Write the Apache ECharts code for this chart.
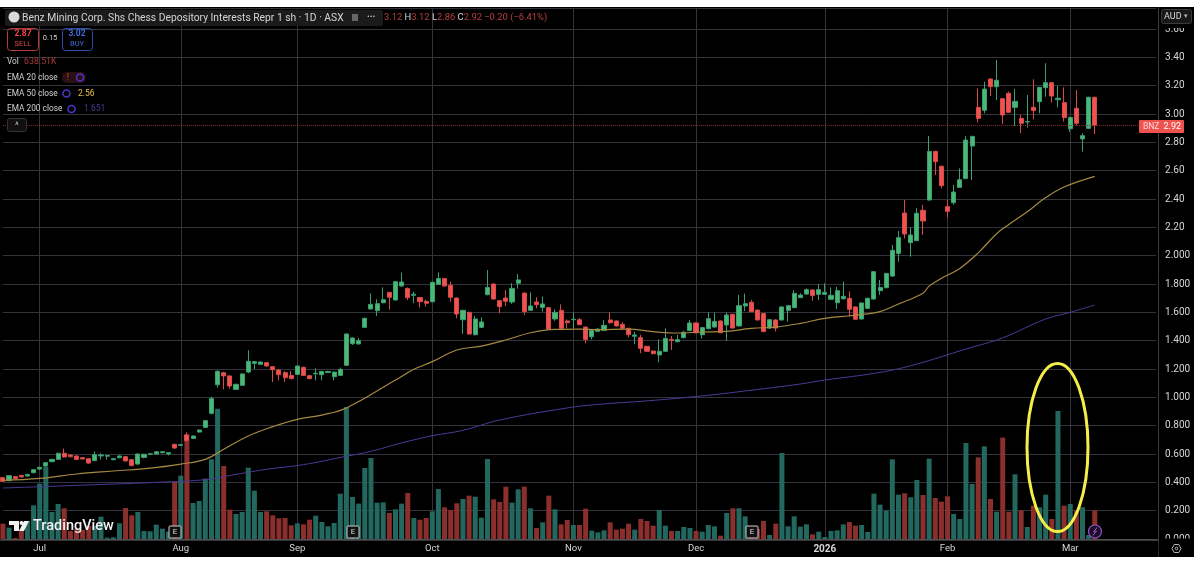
<!DOCTYPE html>
<html>
<head>
<meta charset="utf-8">
<title>BNZ</title>
<script src="https://cdn.jsdelivr.net/npm/echarts@6/dist/echarts.min.js"></script>
<style>
    html, body { margin:0; padding:0; background:#fff; }
    #panel { position:absolute; left:0; top:7px; width:1194px; height:550px; background:#000; }
    #main { position:absolute; left:0; top:0; width:1200px; height:564px; }
</style>
</head>
<body>
<div id="panel"></div>
<div id="main"></div>
<script>
// month labels and the bar each one sits on
var monthNames = ['Jul','Aug','Sep','Oct','Nov','Dec','2026','Feb','Mar'];
var monthBars = [6,29,48,70,93,113,134,154,174];
var barCount = 189; // 179 traded bars + empty space on the right

// open, close, low, high
var candles = [
[.433,.407,.403,.437],[.412,.447,.408,.451],[.44,.426,.422,.444],[.449,.438,.434,.453],[.445,.456,.441,.46],
[.468,.489,.464,.493],[.494,.506,.49,.51],[.515,.539,.511,.543],[.546,.562,.542,.566],[.562,.605,.558,.609],
[.605,.579,.574,.638],[.593,.581,.577,.597],[.586,.562,.558,.59],[.574,.565,.561,.578],[.567,.536,.532,.571],
[.553,.595,.549,.619],[.586,.593,.562,.605],[.585,.589,.56,.593],[.56,.567,.556,.571],[.574,.586,.57,.59],
[.581,.551,.547,.585],[.56,.518,.514,.564],[.529,.6,.525,.604],[.576,.598,.57,.602],[.598,.602,.594,.606],
[.6,.616,.596,.62],[.609,.616,.605,.62],[.6,.609,.59,.613],[.668,.642,.636,.672],[.661,.666,.657,.67],
[.734,.694,.69,.753],[.71,.727,.706,.731],[.755,.769,.751,.773],[.788,.835,.784,.839],[.887,.991,.88,1.005],
[1.089,1.184,1.068,1.19],[1.174,1.151,1.056,1.18],[1.151,1.08,1.06,1.155],[1.056,1.092,1.052,1.096],[1.085,1.165,1.081,1.169],
[1.179,1.254,1.17,1.332],[1.24,1.252,1.2,1.255],[1.233,1.249,1.229,1.253],[1.245,1.221,1.217,1.249],[1.216,1.195,1.108,1.22],
[1.193,1.16,1.12,1.197],[1.174,1.139,1.108,1.185],[1.155,1.132,1.128,1.186],[1.162,1.221,1.158,1.225],[1.212,1.155,1.15,1.216],
[1.153,1.132,1.128,1.157],[1.166,1.17,1.12,1.205],[1.16,1.183,1.12,1.187],[1.175,1.183,1.171,1.187],[1.146,1.178,1.12,1.182],
[1.155,1.197,1.151,1.21],[1.226,1.447,1.222,1.451],[1.379,1.419,1.37,1.423],[1.377,1.4,1.373,1.418],[1.494,1.558,1.49,1.562],
[1.624,1.656,1.62,1.734],[1.612,1.661,1.574,1.692],[1.668,1.689,1.664,1.776],[1.741,1.706,1.621,1.745],[1.687,1.816,1.683,1.82],
[1.786,1.814,1.782,1.88],[1.769,1.704,1.687,1.775],[1.72,1.728,1.664,1.746],[1.704,1.675,1.635,1.708],[1.678,1.664,1.64,1.69],
[1.675,1.812,1.671,1.816],[1.798,1.838,1.794,1.882],[1.838,1.786,1.782,1.842],[1.791,1.706,1.675,1.816],[1.701,1.588,1.558,1.705],
[1.548,1.614,1.447,1.618],[1.6,1.447,1.443,1.604],[1.442,1.553,1.438,1.574],[1.494,1.532,1.49,1.565],[1.725,1.776,1.72,1.899],
[1.8,1.694,1.69,1.804],[1.682,1.64,1.593,1.686],[1.701,1.678,1.645,1.758],[1.673,1.769,1.66,1.805],[1.805,1.829,1.767,1.871],
[1.736,1.605,1.581,1.74],[1.614,1.645,1.61,1.741],[1.673,1.654,1.628,1.706],[1.635,1.659,1.605,1.711],[1.633,1.482,1.478,1.637],
[1.553,1.6,1.54,1.621],[1.614,1.487,1.48,1.656],[1.539,1.527,1.487,1.55],[1.548,1.551,1.487,1.6],[1.548,1.513,1.509,1.56],
[1.496,1.409,1.381,1.5],[1.428,1.471,1.41,1.475],[1.466,1.482,1.462,1.486],[1.473,1.508,1.469,1.546],[1.546,1.527,1.52,1.6],
[1.539,1.504,1.5,1.543],[1.515,1.487,1.483,1.53],[1.487,1.442,1.424,1.491],[1.431,1.44,1.376,1.464],[1.421,1.346,1.311,1.442],
[1.36,1.325,1.321,1.364],[1.327,1.308,1.304,1.331],[1.299,1.325,1.247,1.409],[1.325,1.416,1.321,1.487],[1.409,1.402,1.334,1.433],
[1.393,1.407,1.389,1.44],[1.421,1.459,1.417,1.47],[1.471,1.525,1.467,1.546],[1.525,1.456,1.452,1.529],[1.442,1.492,1.414,1.496],
[1.485,1.555,1.481,1.6],[1.496,1.536,1.492,1.598],[1.539,1.456,1.452,1.543],[1.511,1.581,1.398,1.598],[1.586,1.489,1.485,1.59],
[1.504,1.647,1.5,1.722],[1.645,1.661,1.609,1.732],[1.671,1.605,1.601,1.687],[1.616,1.546,1.542,1.62],[1.591,1.464,1.46,1.595],
[1.489,1.548,1.485,1.552],[1.546,1.489,1.464,1.55],[1.546,1.638,1.542,1.642],[1.614,1.647,1.534,1.651],[1.633,1.734,1.629,1.758],
[1.704,1.722,1.7,1.734],[1.729,1.76,1.725,1.769],[1.758,1.718,1.682,1.762],[1.727,1.76,1.687,1.8],[1.727,1.741,1.723,1.805],
[1.692,1.72,1.688,1.776],[1.668,1.753,1.624,1.78],[1.696,1.713,1.69,1.816],[1.699,1.621,1.569,1.748],[1.638,1.551,1.547,1.642],
[1.553,1.666,1.549,1.67],[1.628,1.699,1.624,1.703],[1.694,1.887,1.69,1.891],[1.753,1.776,1.722,1.828],[1.774,1.875,1.77,1.879],
[1.856,2.038,1.852,2.075],[2.016,2.127,1.958,2.174],[2.301,2.153,2.122,2.393],[2.092,2.146,1.993,2.198],[2.106,2.299,2.102,2.334],
[2.32,2.245,2.146,2.358],[2.393,2.736,2.389,2.845],[2.736,2.664,2.569,2.74],[2.631,2.494,2.475,2.635],[2.346,2.313,2.268,2.393],
[2.374,2.449,2.36,2.499],[2.482,2.536,2.478,2.616],[2.544,2.816,2.54,2.845],[2.774,2.842,2.534,2.846],[3.047,2.969,2.939,3.181],
[3.026,3.176,3.005,3.228],[3.247,3.193,3.127,3.251],[3.193,3.238,3.099,3.381],[3.108,2.993,2.929,3.112],[3.146,3.012,3.008,3.158],
[3.047,3.089,2.915,3.176],[2.969,2.934,2.864,2.993],[2.944,2.946,2.904,3.134],[3.047,3.024,2.962,3.245],[3.087,3.188,3.005,3.192],
[3.186,3.221,3.122,3.358],[3.221,3.127,3.08,3.225],[3.101,3.111,3.047,3.198],[3.08,2.974,2.946,3.188],[2.896,2.976,2.875,2.98],
[3.04,2.934,2.92,3.169],[2.824,2.847,2.734,2.864],[2.899,3.118,2.895,3.122],[3.118,2.92,2.859,3.122]
];

// volume in thousands of shares
var volumes = [
341,252,22,178,401,749,1232,1603,601,779,683,178,215,200,289,289,497,30,37,349,
690,527,601,178,171,319,230,163,1269,1410,2330,801,846,1343,1773,2901,1625,653,557,601,
1588,1076,601,616,527,460,467,304,349,326,430,519,378,282,356,1009,2938,935,787,1580,
1803,809,816,579,660,787,1024,467,430,467,616,1113,705,646,794,890,965,942,475,1781,
883,824,1165,809,1106,1165,683,245,371,965,660,326,423,312,312,675,186,148,193,371,
208,230,341,208,445,401,297,646,297,178,178,267,245,178,163,312,282,74,579,683,
683,505,223,223,401,89,341,1914,282,505,275,326,104,163,45,178,193,326,378,297,
312,156,1009,764,631,1773,987,1017,928,1313,979,1788,913,831,950,557,445,2137,1224,1818,
2063,890,608,2256,608,1440,638,267,742,705,987,445,2849,742,779,638,705,89,638
];

var ema50Bars = [0,6,12,18,24,29,33,36,40,44,48,52,56,64,67,70,74,78,82,86,90,94,97,102,106,110,114,118,122,126,130,134,138,140,143,146,150,151,153,156,159,162,164,167,170,173,178];
var ema50Values = [.414,.428,.459,.48,.5,.529,.562,.633,.727,.793,.845,.875,.925,1.122,1.198,1.252,1.334,1.362,1.405,1.456,1.48,1.482,1.478,1.482,1.464,1.454,1.461,1.466,1.487,1.496,1.522,1.558,1.576,1.585,1.605,1.659,1.735,1.785,1.84,1.91,2.02,2.155,2.22,2.31,2.41,2.485,2.56];

var ema200Bars = [0,6,18,24,33,38,43,49,56,60,65,70,75,81,92,97,105,114,121,130,134,143,149,157,163,170,174,178];
var ema200Values = [.36,.369,.388,.398,.419,.456,.492,.525,.584,.619,.678,.729,.767,.84,.925,.95,.975,1.01,1.045,1.094,1.122,1.176,1.235,1.341,1.42,1.553,1.6,1.652];

var yTickStep = 0.2;
var lastPrice = 2.92;
var upColor = '#4bb873', upWick = '#3aa074', downColor = '#ef5350', downWick = '#d84a48';
var volUp = '#22685f', volDown = '#8b2f2d';
var gridColor = '#33333b', textColor = '#d6d6d6';
var fontName = 'Roboto';

var categories = [];
for (var i = 0; i < barCount; i++) categories.push(String(i));

function pairs(bars, values) {
    return bars.map(function (b, k) { return [b, values[k]]; });
}
function txt(x, y, s, fill, size, extra) {
    var style = { x:x, y:y, text:s, fill:fill, fontSize:size, fontFamily:fontName, verticalAlign:'middle', align:'left' };
    for (var k in (extra || {})) style[k] = extra[k];
    return { type:'text', z:100, silent:true, style:style };
}
function box(x, y, w, h, fill, stroke, r) {
    return { type:'rect', z:99, silent:true, shape:{x:x, y:y, width:w, height:h, r:r || 0},
        style:{ fill:fill, stroke:stroke || null, lineWidth:1 } };
}
function earningsMark(x) {
    return [ box(x, 526, 12, 12, '#111', '#cfcfcf', 1), txt(x + 6, 532, 'E', '#dcdcdc', 8, {align:'center'}) ];
}
function spinner(x, y) {
    return { type:'circle', z:100, silent:true, shape:{cx:x, cy:y, r:3.5},
        style:{ fill:'none', stroke:'#4a35c8', lineWidth:1.6 } };
}

var marks = [
    // axis strip edges, the labels are cut off there
    box(1159, 7, 35, 21, '#000'),
    box(1159, 538.5, 35, 18.5, '#000'),
    { type:'line', z:99, silent:true, shape:{x1:0, y1:540, x2:1159, y2:540}, style:{stroke:'#6e6e6e', lineWidth:1} },
    box(1161.5, 9.5, 30, 14, '#181818', '#3a3a3a', 2),
    txt(1164, 17, 'AUD', '#d6d6d6', 9),
    txt(1186, 16.5, '▾', '#b5b5b5', 7, {align:'center'}),
    // title bar
    box(5, 10, 378, 16, '#1b1b1b', null, 2),
    { type:'circle', z:100, silent:true, shape:{cx:14, cy:17, r:5.5}, style:{fill:'#d9d9d9'} },
    txt(22, 18, 'Benz Mining Corp. Shs Chess Depository Interests Repr 1 sh · 1D · ASX', '#d4d4d4', 10.3),
    box(352, 14, 6, 7, '#666'),
    txt(367, 17, '•••', '#bdbdbd', 8),
    txt(384, 18, '{v|3.12} {k|H}{v|3.12} {k|L}{v|2.86} {k|C}{v|2.92} {v|−0.20 (−6.41%)}', '#b53a3a', 9.4, {
        rich:{
            v:{ fill:'#b8403e', fontSize:9.4, fontFamily:fontName },
            k:{ fill:'#cfcfcf', fontSize:9.4, fontFamily:fontName }
        }
    }),
    // buy / sell
    box(7.5, 28.5, 31, 22, 'none', '#b83a3a', 3),
    txt(23, 34, '2.87', '#ef4444', 8.5, {align:'center', fontWeight:'bold'}),
    txt(23, 44, 'SELL', '#d84a4a', 7.5, {align:'center'}),
    txt(50, 38.5, '0.15', '#cfcfcf', 7.5, {align:'center'}),
    box(62.5, 28.5, 30, 22, 'none', '#2b4fa8', 3),
    txt(77, 34, '3.02', '#3f6fe0', 8.5, {align:'center', fontWeight:'bold'}),
    txt(77, 44, 'BUY', '#3f6fe0', 7.5, {align:'center'}),
    // indicator legend
    txt(7, 62, 'Vol', '#d0d0d0', 8.3),
    txt(24, 62, '638.51K', '#a83a3a', 8.8),
    txt(7, 77.5, 'EMA 20 close', '#d0d0d0', 8.3),
    box(62, 72, 24, 11, '#2a1012', null, 5),
    txt(68, 77.5, '!', '#d84040', 9, {align:'center'}),
    spinner(80, 77.5),
    txt(7, 93.5, 'EMA 50 close', '#d0d0d0', 8.3),
    spinner(66.5, 93.5),
    txt(78, 93.5, '2.56', '#e8c24a', 8.5),
    txt(7, 109, 'EMA 200 close', '#d0d0d0', 8.3),
    spinner(71.5, 109),
    txt(84, 109, '1.651', '#4b3a96', 8.5),
    box(7.5, 118.5, 19, 13, '#101010', '#333', 2),
    txt(17, 126, '^', '#c8c8c8', 9, {align:'center'}),
    // last price tag
    box(1139, 120, 45, 13, '#ef5350', null, 1),
    txt(1143, 126.5, 'BNZ', '#ffd9d9', 8.5),
    txt(1181, 126.5, '2.92', '#ffffff', 9, {align:'right'}),
    // TradingView watermark
    { type:'polygon', z:100, silent:true, shape:{points:[[9,521],[19,521],[19,531],[14,531],[14,525],[9,525]]}, style:{fill:'#f2f2f2'} },
    { type:'circle', z:100, silent:true, shape:{cx:21.5, cy:523, r:2}, style:{fill:'#f2f2f2'} },
    { type:'polygon', z:100, silent:true, shape:{points:[[24,521],[29,521],[24,531],[19,531]]}, style:{fill:'#f2f2f2'} },
    txt(33, 526.5, 'TradingView', '#f2f2f2', 14.5, {fontWeight:500}),
    // hand drawn ring round the volume spike
    { type:'ellipse', z:101, silent:true, shape:{cx:1057.5, cy:447.5, rx:30.5, ry:84},
        style:{ fill:'none', stroke:'#f5ee4a', lineWidth:3 } },
    // latest-news bolt
    { type:'circle', z:100, silent:true, shape:{cx:1095, cy:531.5, r:6.5}, style:{fill:'#1a0f24', stroke:'#9a4fd0', lineWidth:1.2} },
    { type:'polyline', z:101, silent:true, shape:{points:[[1097,527.5],[1093.5,532],[1096.5,531],[1093,535.5]]}, style:{fill:'none', stroke:'#9a4fd0', lineWidth:1} },
    // settings gear
    { type:'polygon', z:100, silent:true, shape:{points:[[1172,548.5],[1174.2,544.5],[1178.8,544.5],[1181,548.5],[1178.8,552.5],[1174.2,552.5]]}, style:{fill:'none', stroke:'#b5b5b5', lineWidth:1} },
    { type:'circle', z:100, silent:true, shape:{cx:1176.5, cy:548.5, r:1.3}, style:{fill:'none', stroke:'#b5b5b5', lineWidth:1} },
    { type:'line', z:99, silent:true, shape:{x1:1158.5, y1:541, x2:1158.5, y2:557}, style:{stroke:'#2a2a2a', lineWidth:1} }
].concat(earningsMark(169), earningsMark(347), earningsMark(746));

var myChart = echarts.init(document.getElementById('main'));
var option = {
    animation:false,
    graphic:{ elements:marks },
    grid:{ left:2.9, right:43.9, top:7.75, bottom:25 },
    xAxis:{
        type:'category',
        boundaryGap:false,
        data:categories,
        axisLine:{ show:false },
        axisTick:{ show:false },
        splitLine:{
            show:true,
            interval:function (idx) { return monthBars.indexOf(idx) >= 0; },
            lineStyle:{ color:gridColor, width:1 }
        },
        axisLabel:{
            interval:function (idx) { return monthBars.indexOf(idx) >= 0; },
            formatter:function (v, idx) {
                var name = monthNames[monthBars.indexOf(Number(v))];
                return name === '2026' ? '{b|2026}' : name;
            },
            rich:{ b:{ fontWeight:'bold', fontSize:10, color:textColor, fontFamily:fontName } },
            color:textColor,
            fontSize:9.5,
            fontFamily:fontName,
            margin:5
        }
    },
    yAxis:[
        {
            type:'value',
            position:'right',
            min:0,
            max:3.75,
            interval:yTickStep,
            offset:2,
            axisLine:{ show:true, lineStyle:{ color:'#3a3a3a' } },
            axisTick:{ show:false },
            splitLine:{ lineStyle:{ color:gridColor, width:1 } },
            axisLabel:{
                showMaxLabel:false,
                color:textColor,
                fontSize:10,
                fontFamily:fontName,
                margin:7,
                padding:[3,0,0,0],
                formatter:function (v) { return v > 2.1 ? v.toFixed(2) : v.toFixed(3); }
            }
        },
        { type:'value', min:0, max:11826, show:false, splitLine:{ show:false } }
    ],
    series:[
        {
            name:'Vol',
            type:'bar',
            yAxisIndex:1,
            barWidth:5,
            data:volumes,
            itemStyle:{
                color:function (p) {
                    var c = candles[p.dataIndex];
                    return c[1] >= c[0] ? volUp : volDown;
                }
            }
        },
        {
            name:'EMA 200',
            type:'line',
            data:pairs(ema200Bars, ema200Values),
            showSymbol:false,
            smooth:0.4,
            lineStyle:{ color:'#4b3a96', width:1 }
        },
        {
            name:'EMA 50',
            type:'line',
            data:pairs(ema50Bars, ema50Values),
            showSymbol:false,
            smooth:0.4,
            lineStyle:{ color:'#a78a42', width:1.2 }
        },
        {
            name:'BNZ',
            type:'candlestick',
            clip:false,
            barWidth:4.6,
            data:candles,
            itemStyle:{
                color:upColor, color0:downColor,
                borderColor:upWick, borderColor0:downWick,
                borderWidth:1
            },
            markLine:{
                silent:true,
                symbol:'none',
                label:{ show:false },
                lineStyle:{ color:'#8a2c2c', type:'dotted', width:1 },
                data:[{ yAxis:lastPrice }]
            }
        }
    ]
};
myChart.setOption(option);
window.onresize = function(){
    myChart.resize();
};
</script>
</body>
</html>
